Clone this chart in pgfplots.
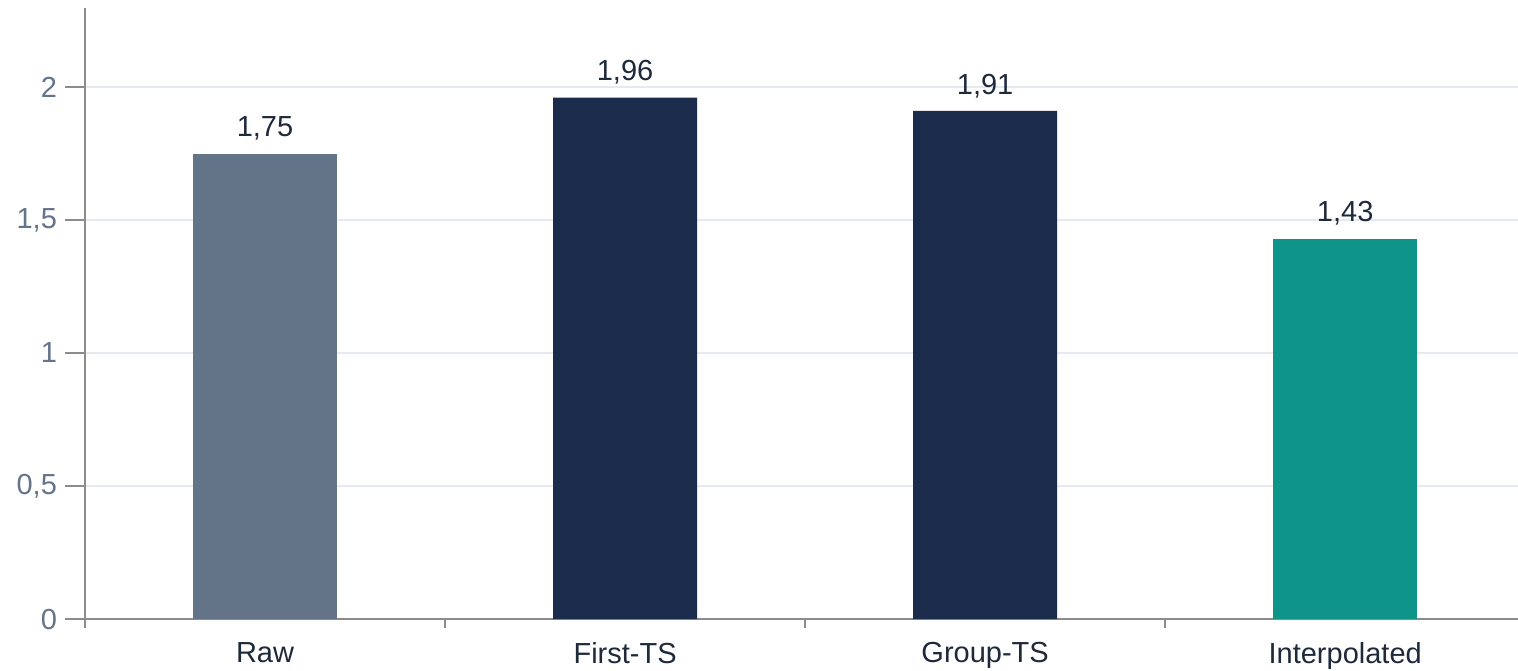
\documentclass[border=0pt]{standalone}
\usepackage{fontspec}
\setmainfont{Liberation Sans}
\usepackage{pgfplots}
\pgfplotsset{compat=1.18}
\definecolor{rawc}{HTML}{637489}
\definecolor{navyc}{HTML}{1B2B4B}
\definecolor{tealc}{HTML}{0E9488}
\definecolor{ylabc}{HTML}{64748B}
\definecolor{xlabc}{HTML}{1E293B}
\definecolor{axisc}{HTML}{8C8C8C}
\definecolor{gridc}{HTML}{E5E9F0}
\begin{document}
\begin{tikzpicture}
\begin{axis}[
  scale only axis, width=716.5pt, height=305.5pt,
  xmin=-0.5, xmax=3.48, ymin=0, ymax=2.297,
  axis x line=bottom, axis y line=left,
  axis line style={draw=axisc, line width=1pt, -},
  xtick pos=bottom, ytick pos=left,
  font=\fontsize{14.5}{17}\selectfont,
  /pgf/number format/assume math mode=true,
  /pgf/number format/use comma,
  ybar,
  bar width=0.4,
  xtick={-0.5,0.5,1.5,2.5},
  xticklabels={},
  extra x ticks={0,1,2,3},
  extra x tick labels={Raw, First-TS, Group-TS, Interpolated},
  extra x tick style={major tick length=0pt, grid=none,
    xticklabel style={text=xlabc, yshift=-8pt}},
  tick style={draw=axisc, line width=1pt},
  tick align=outside,
  major tick length=4.5pt,
  ytick={0,0.5,1,1.5,2},
  extra y ticks={0,0.5,1,1.5,2},
  extra y tick labels={},
  extra y tick style={major tick length=10pt, grid=none,
    tick style={draw=axisc, line width=1.1pt}},
  ymajorgrids, grid style={draw=gridc, line width=0.6pt},
  yticklabel style={text=ylabc, xshift=-6pt},
  nodes near coords,
  point meta=y,
  every node near coord/.append style={text=xlabc, yshift=3pt,
    /pgf/number format/.cd, fixed, fixed zerofill, precision=2, use comma},
]
\addplot[fill=rawc, draw=none, bar shift=0pt] coordinates {(0,1.75)};
\addplot[fill=navyc, draw=none, bar shift=0pt] coordinates {(1,1.96) (2,1.91)};
\addplot[fill=tealc, draw=none, bar shift=0pt] coordinates {(3,1.43)};
\end{axis}
\pgfresetboundingbox
\path[use as bounding box] ([shift={(-42.5pt,-25.5pt)}]current axis.south west) rectangle ([shift={(0pt,4pt)}]current axis.north east);
\end{tikzpicture}
\end{document}
